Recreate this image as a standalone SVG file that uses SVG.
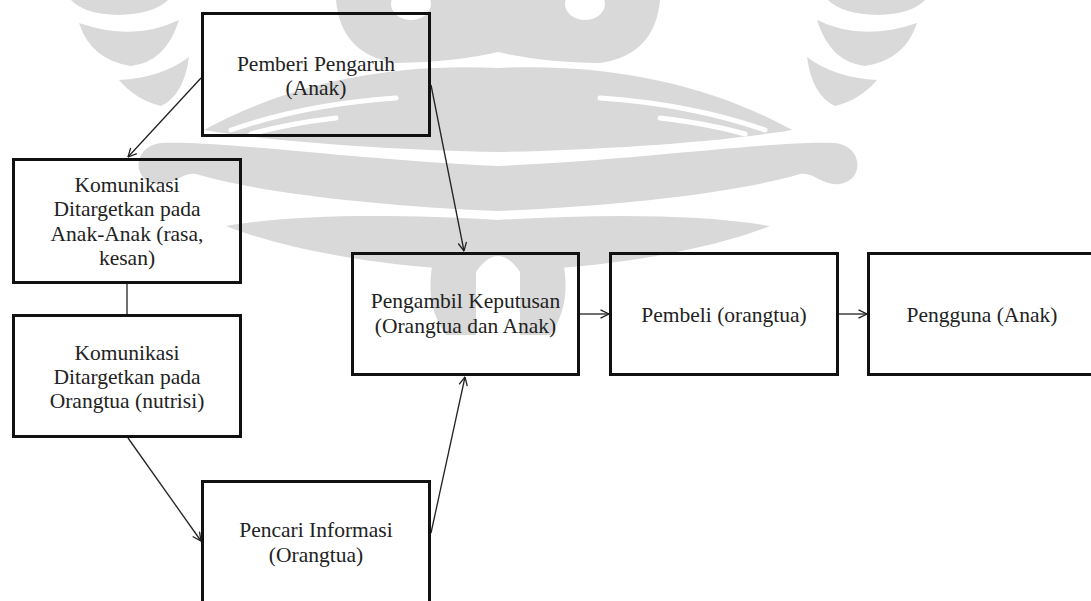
<svg xmlns="http://www.w3.org/2000/svg" width="1091" height="601" viewBox="0 0 1091 601">
  <style>
    .box { fill: none; stroke: #111; stroke-width: 3; }
    .lbl { font-size: 21.5px; fill: #222; text-anchor: middle; }
    .link { fill: none; stroke: #222; stroke-width: 1.3; }
    .wm { fill: #d9d9d9; }
    .wmcut { fill: #fff; }
    .wmline { fill: none; stroke: #fff; stroke-width: 5; stroke-linecap: round; }
  </style>
  <defs>
    <marker id="open" viewBox="0 0 10 10" refX="9.5" refY="5" markerWidth="10" markerHeight="10" markerUnits="userSpaceOnUse" orient="auto">
      <path d="M1,0.8 L9.5,5 L1,9.2" fill="none" stroke="#222" stroke-width="1.3"/>
    </marker>
    <!-- one half of the background emblem, mirrored about x = 498 -->
    <g id="emblem-half">
      <path class="wm" d="M498 0 L660 0 Q655 55 600 63 Q540 62 498 52 Z"/>
      <ellipse class="wmcut" cx="585" cy="4" rx="20" ry="16"/>
      <path class="wm" d="M498 68 C620 62 720 90 792 130 C720 142 600 150 498 152 Z"/>
      <path class="wmline" d="M600 98 Q690 104 765 130"/>
      <path class="wmline" d="M660 118 Q710 124 745 134"/>
      <path class="wm" d="M498 166 C640 160 780 140 835 143 C864 146 864 181 840 184 C822 186 814 172 800 174 C740 192 620 206 498 211 Z"/>
      <path class="wm" d="M498 220 C600 214 700 214 770 226 C720 246 640 262 560 268 L498 268 Z"/>
      <path class="wm" d="M828 0 L925 0 Q912 14 878 15 Q842 14 828 0 Z"/>
      <path class="wm" d="M817 20 Q862 42 917 23 Q905 60 865 66 Q830 62 817 20 Z"/>
      <path class="wm" d="M807 57 Q835 78 877 80 Q860 100 835 106 Q812 95 807 57 Z"/>
      <path class="wm" d="M498 250 L560 250 Q575 300 550 335 L498 335 Z"/>
    </g>
  </defs>

  <!-- background emblem -->
  <g id="emblem">
    <use href="#emblem-half"/>
    <use href="#emblem-half" transform="matrix(-1 0 0 1 996 0)"/>
    <path class="wmcut" d="M476 335 L476 272 Q498 240 520 272 L520 335 Z"/>
  </g>

  <!-- connectors -->
  <g id="connectors">
    <line class="link" x1="201" y1="78" x2="128" y2="157" marker-end="url(#open)"/>
    <line class="link" x1="431" y1="85" x2="464" y2="251" marker-end="url(#open)"/>
    <line class="link" x1="580" y1="314" x2="609" y2="314" marker-end="url(#open)"/>
    <line class="link" x1="839" y1="314" x2="867" y2="314" marker-end="url(#open)"/>
    <line class="link" x1="128" y1="438" x2="201" y2="541" marker-end="url(#open)"/>
    <line class="link" x1="431" y1="533" x2="465" y2="377" marker-end="url(#open)"/>
    <line class="link" x1="127" y1="284" x2="127" y2="314"/>
  </g>

  <g id="nodes" font-family="Liberation Serif, serif">
    <g id="pemberi-pengaruh">
      <rect class="box" x="202.5" y="13.5" width="227" height="122"/>
      <text class="lbl" x="316" y="71">Pemberi Pengaruh</text>
      <text class="lbl" x="316" y="95">(Anak)</text>
    </g>

    <g id="komunikasi-anak">
      <rect class="box" x="13.5" y="159.5" width="227" height="123"/>
      <text class="lbl" x="127" y="192">Komunikasi</text>
      <text class="lbl" x="127" y="216">Ditargetkan pada</text>
      <text class="lbl" x="127" y="241">Anak-Anak (rasa,</text>
      <text class="lbl" x="127" y="265">kesan)</text>
    </g>

    <g id="komunikasi-orangtua">
      <rect class="box" x="13.5" y="315.5" width="227" height="121"/>
      <text class="lbl" x="127" y="360">Komunikasi</text>
      <text class="lbl" x="127" y="384">Ditargetkan pada</text>
      <text class="lbl" x="127" y="408">Orangtua (nutrisi)</text>
    </g>

    <g id="pencari-informasi">
      <rect class="box" x="202.5" y="481.5" width="227" height="200"/>
      <text class="lbl" x="316" y="537">Pencari Informasi</text>
      <text class="lbl" x="316" y="562">(Orangtua)</text>
    </g>

    <g id="pengambil-keputusan">
      <rect class="box" x="352.5" y="253.5" width="226" height="121"/>
      <text class="lbl" x="465.5" y="308">Pengambil Keputusan</text>
      <text class="lbl" x="465.5" y="333">(Orangtua dan Anak)</text>
    </g>

    <g id="pembeli">
      <rect class="box" x="610.5" y="253.5" width="227" height="121"/>
      <text class="lbl" x="724" y="322">Pembeli (orangtua)</text>
    </g>

    <g id="pengguna">
      <rect class="box" x="868.5" y="253.5" width="227" height="121"/>
      <text class="lbl" x="982" y="322">Pengguna (Anak)</text>
    </g>
  </g>
</svg>
